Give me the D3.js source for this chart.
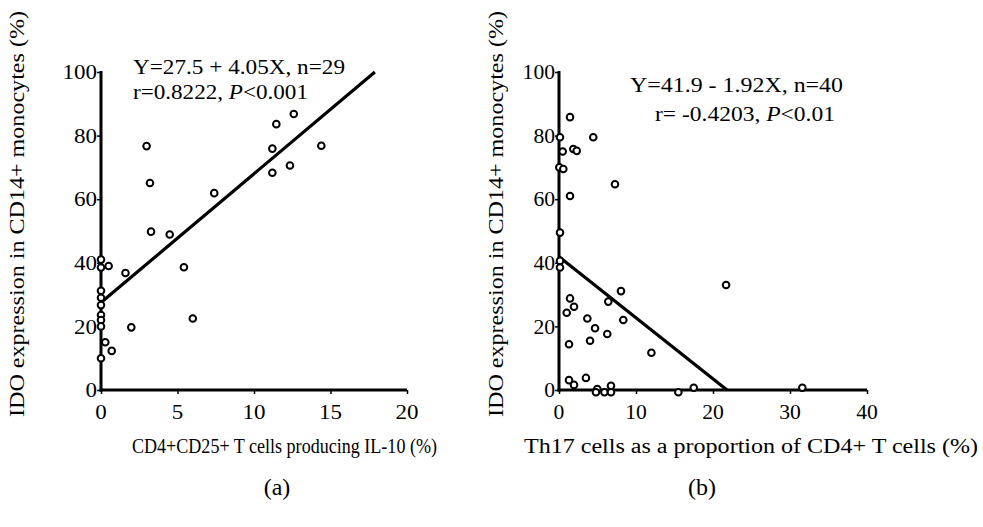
<!DOCTYPE html>
<html>
<head>
<meta charset="utf-8">
<script src="https://cdn.jsdelivr.net/npm/d3@7"></script>
<style>
  html, body { margin: 0; padding: 0; background: #fff; }
  svg { display: block; }
  text { font-family: "Liberation Serif", "Times New Roman", serif; fill: #000; }
</style>
</head>
<body>
<svg id="chart" width="983" height="527"></svg>
<script>
// ---------- Data: panel (a) ----------
const aX = [0, 0, 0, 0, 0, 0, 0, 0, 0,
            0.5, 1.6, 1.98, 0.28, 0.7,
            3.27, 4.49, 5.42, 6.0,
            2.98, 3.2, 7.4, 11.46, 12.6, 11.2, 14.4, 11.2, 12.35];
const aY = [41, 38.5, 31.2, 29, 26.7, 23.6, 22, 20, 10,
            39, 36.8, 19.7, 15, 12.3,
            49.8, 48.9, 38.6, 22.5,
            76.7, 65.1, 61.9, 83.6, 86.8, 75.9, 76.8, 68.3, 70.6];
const aXTicks = [0, 5, 10, 15, 20];
const aYTicks = [0, 20, 40, 60, 80, 100];
const aFit = [27.5, 4.05];          // intercept, slope
const aFitRange = [0, 17.9];
const aEq = ["Y=27.5 + 4.05X, n=29"];
const aStat = ["r=0.8222, ", "P", "<0.001"];
const aXLabel = "CD4+CD25+ T cells producing IL-10 (%)";

// ---------- Data: panel (b) ----------
const bX = [1.43, 0.13, 4.45, 0.48, 1.86, 2.3, 0.04, 0.56, 7.27, 1.43,
            0.13, 0.13, 0.13,
            21.7, 8.05, 1.43, 6.4, 1.95, 1.0, 3.68, 8.35, 4.68, 6.27, 4.03, 1.3, 12.0,
            3.5, 1.3, 1.95, 4.97, 4.8, 5.9, 6.75, 6.75, 15.5, 17.5, 31.6];
const bY = [85.8, 79.5, 79.5, 75.0, 75.8, 75.2, 70.0, 69.5, 64.7, 61.0,
            49.5, 40.6, 38.5,
            33.0, 31.1, 28.8, 27.8, 26.2, 24.3, 22.5, 22.0, 19.4, 17.6, 15.5, 14.4, 11.7,
            3.8, 3.1, 1.6, 0.3, -0.7, -0.7, 1.3, -0.7, -0.7, 0.7, 0.7];
const bXTicks = [0, 10, 20, 30, 40];
const bYTicks = [0, 20, 40, 60, 80, 100];
const bFit = [41.9, -1.92];
const bFitRange = [0, 41.9 / 1.92];
const bEq = ["Y=41.9 - 1.92X, n=40"];
const bStat = ["r= -0.4203, ", "P", "<0.01"];
const bXLabel = "Th17 cells as a proportion of CD4+ T cells (%)";

const yLabel = "IDO expression in CD14+ monocytes (%)";

// ---------- Drawing ----------
const svg = d3.select("#chart");
svg.append("rect").attr("width", 983).attr("height", 527).attr("fill", "#fff");

function panel(opt) {
  const x = d3.scaleLinear().domain(opt.xDomain).range(opt.xRange);
  const y = d3.scaleLinear().domain([0, 100]).range(opt.yRange);
  const g = svg.append("g");

  // small tick marks
  const yAxis = d3.axisLeft(y).tickValues(opt.yTicks).tickSize(4).tickFormat("");
  const yg = g.append("g").attr("transform", `translate(${x(0)},0)`).call(yAxis);
  yg.select(".domain").remove();
  yg.selectAll("line").attr("stroke", "#000").attr("stroke-width", 1.5);

  const xAxis = d3.axisBottom(x).tickValues(opt.xTicks).tickSize(4).tickFormat("");
  const xg = g.append("g").attr("transform", `translate(0,${y(0)})`).call(xAxis);
  xg.select(".domain").remove();
  xg.selectAll("line").attr("stroke", "#000").attr("stroke-width", 1.5);

  // axis lines
  g.append("line").attr("x1", x(0)).attr("x2", x(0))
    .attr("y1", y(100) - 1).attr("y2", y(0) + 1.5)
    .attr("stroke", "#000").attr("stroke-width", 3);
  g.append("line").attr("x1", x(0) - 1.5).attr("x2", x(opt.xDomain[1]))
    .attr("y1", y(0)).attr("y2", y(0))
    .attr("stroke", "#000").attr("stroke-width", 3);

  // tick labels
  g.selectAll(".ylab").data(opt.yTicks).enter().append("text")
    .attr("x", x(0) - 4).attr("y", d => y(d)).attr("dy", "0.36em")
    .attr("text-anchor", "end").attr("font-size", 20)
    .attr("textLength", d => String(d).length * opt.digitW)
    .attr("lengthAdjust", "spacingAndGlyphs")
    .text(d => d);
  g.selectAll(".xlab").data(opt.xTicks).enter().append("text")
    .attr("x", d => x(d)).attr("y", 419)
    .attr("text-anchor", "middle").attr("font-size", 20)
    .attr("textLength", d => String(d).length * opt.digitW)
    .attr("lengthAdjust", "spacingAndGlyphs")
    .text(d => d);

  // regression line
  const fy = v => opt.fit[0] + opt.fit[1] * v;
  g.append("line")
    .attr("x1", x(opt.fitRange[0])).attr("y1", y(fy(opt.fitRange[0])))
    .attr("x2", x(opt.fitRange[1])).attr("y2", y(fy(opt.fitRange[1])))
    .attr("stroke", "#000").attr("stroke-width", 3.2);

  // points
  g.selectAll("circle").data(opt.xs).enter().append("circle")
    .attr("cx", (d, i) => x(d)).attr("cy", (d, i) => y(opt.ys[i]))
    .attr("r", 3.3).attr("fill", "#fff").attr("stroke", "#000").attr("stroke-width", 2);

  // annotations
  g.append("text").attr("x", opt.eqPos[0]).attr("y", opt.eqPos[1])
    .attr("font-size", 22).attr("textLength", opt.eqPos[2]).attr("lengthAdjust", "spacingAndGlyphs")
    .text(opt.eq[0]);
  const st = g.append("text").attr("x", opt.statPos[0]).attr("y", opt.statPos[1])
    .attr("font-size", 22).attr("textLength", opt.statPos[2]).attr("lengthAdjust", "spacingAndGlyphs");
  st.append("tspan").text(opt.stat[0]);
  st.append("tspan").attr("font-style", "italic").text(opt.stat[1]);
  st.append("tspan").text(opt.stat[2]);

  // axis titles
  g.append("text").attr("transform", `translate(${opt.yLabX},214) rotate(-90)`)
    .attr("text-anchor", "middle").attr("font-size", 20)
    .attr("textLength", 406).attr("lengthAdjust", "spacingAndGlyphs")
    .text(yLabel);
  g.append("text").attr("x", opt.xLabPos[0]).attr("y", 453)
    .attr("font-size", 20).attr("textLength", opt.xLabPos[1]).attr("lengthAdjust", "spacingAndGlyphs")
    .text(opt.xLabel);
  g.append("text").attr("x", opt.tagX).attr("y", 495)
    .attr("text-anchor", "middle").attr("font-size", 24)
    .text(opt.tag);
}

panel({
  xDomain: [0, 20], xRange: [101, 407], yRange: [390, 72],
  xTicks: aXTicks, yTicks: aYTicks, digitW: 11.5,
  fit: aFit, fitRange: aFitRange, xs: aX, ys: aY,
  eq: aEq, stat: aStat, eqPos: [133, 74, 212], statPos: [133, 99, 175],
  yLabX: 24, xLabel: aXLabel, xLabPos: [132, 305], tagX: 277, tag: "(a)"
});

panel({
  xDomain: [0, 40], xRange: [559, 867], yRange: [390, 72],
  xTicks: bXTicks, yTicks: bYTicks, digitW: 10.8,
  fit: bFit, fitRange: bFitRange, xs: bX, ys: bY,
  eq: bEq, stat: bStat, eqPos: [630, 92, 213], statPos: [655, 121, 180],
  yLabX: 503, xLabel: bXLabel, xLabPos: [524, 454], tagX: 702, tag: "(b)"
});
</script>
</body>
</html>
